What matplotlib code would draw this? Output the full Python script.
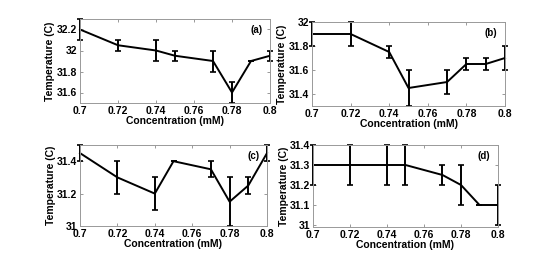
import matplotlib.pyplot as plt
from matplotlib.ticker import FuncFormatter

plt.rcParams['font.family'] = ['Liberation Sans', 'DejaVu Sans']
plt.rcParams['font.weight'] = 'bold'

conc = [0.70, 0.72, 0.74, 0.75, 0.77, 0.78, 0.79, 0.80]

temp_a = [32.2, 32.05, 32.0, 31.95, 31.9, 31.6, 31.9, 31.95]
err_a = [0.1, 0.05, 0.1, 0.05, 0.1, 0.1, 0.0, 0.05]

temp_b = [31.9, 31.9, 31.75, 31.45, 31.5, 31.65, 31.65, 31.7]
err_b = [0.1, 0.1, 0.05, 0.15, 0.1, 0.05, 0.05, 0.1]

temp_c = [31.45, 31.3, 31.2, 31.4, 31.35, 31.15, 31.25, 31.45]
err_c = [0.05, 0.1, 0.1, 0.0, 0.05, 0.15, 0.05, 0.05]

temp_d = [31.3, 31.3, 31.3, 31.3, 31.25, 31.2, 31.1, 31.1]
err_d = [0.1, 0.1, 0.1, 0.1, 0.05, 0.1, 0.0, 0.1]

xticks = [0.7, 0.72, 0.74, 0.76, 0.78, 0.8]

W, H = 554, 277
fig = plt.figure(figsize=(W / 100, H / 100), dpi=100)

# (left, right, top, bottom) in pixels, data, errors, ylim, yticks, label
panels = [
    ((80, 270, 19, 103), temp_a, err_a, (31.5, 32.3), [31.6, 31.8, 32.0, 32.2], "(a)"),
    ((312, 505, 22, 106), temp_b, err_b, (31.3, 32.0), [31.4, 31.6, 31.8, 32.0], "(b)"),
    ((80, 267, 145, 226), temp_c, err_c, (31.0, 31.5), [31.0, 31.2, 31.4], "(c)"),
    ((313, 498, 145, 227), temp_d, err_d, (30.99, 31.4), [31.0, 31.1, 31.2, 31.3, 31.4], "(d)"),
]

fmt = FuncFormatter(lambda v, p: f"{v:g}")

for (l, r, t, b), temp, err, ylim, yticks, lab in panels:
    ax = fig.add_axes([l / W, (H - b) / H, (r - l) / W, (b - t) / H])
    ax.errorbar(conc, temp, yerr=err, color="black", lw=1.4, elinewidth=1.4,
                capsize=2.5, capthick=1.2, clip_on=False)
    ax.set_xlim(0.7, 0.8)
    ax.set_ylim(*ylim)
    ax.set_xticks(xticks)
    ax.set_yticks(yticks)
    ax.xaxis.set_major_formatter(fmt)
    ax.yaxis.set_major_formatter(fmt)
    ax.tick_params(direction="in", length=2, width=0.6, labelsize=7.5, pad=2,
                   top=True, right=True, color="#888888")
    for s in ax.spines.values():
        s.set_color("#999999")
        s.set_linewidth(0.7)
    ax.set_xlabel("Concentration (mM)", fontsize=7.5, fontweight="bold", labelpad=0)
    ax.set_ylabel("Temperature (C)", fontsize=7.5, fontweight="bold", labelpad=1)
    ax.text(0.96, 0.87, lab, transform=ax.transAxes, fontsize=7,
            fontweight="bold", ha="right", va="center")

fig.savefig("out.png", dpi=100)
